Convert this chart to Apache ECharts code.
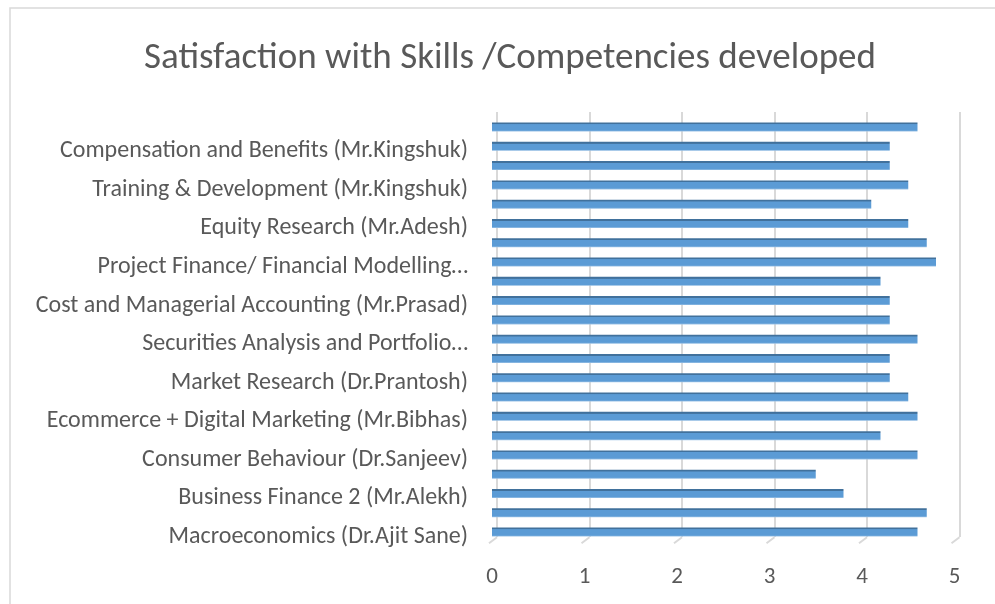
<!DOCTYPE html>
<html><head><meta charset="utf-8">
<script src="https://cdn.jsdelivr.net/npm/echarts@6/dist/echarts.min.js"></script>
<style>html,body{margin:0;padding:0;background:#fff}#c{width:995px;height:604px}</style>
</head><body><div id="c"></div>
<script>
const titleText = "Satisfaction with Skills /Competencies developed";
// bottom to top
const categories = [
  "Macroeconomics (Dr.Ajit Sane)", "",
  "Business Finance 2 (Mr.Alekh)", "",
  "Consumer Behaviour (Dr.Sanjeev)", "",
  "Ecommerce + Digital Marketing (Mr.Bibhas)", "",
  "Market Research (Dr.Prantosh)", "",
  "Securities Analysis and Portfolio…", "",
  "Cost and Managerial Accounting (Mr.Prasad)", "",
  "Project Finance/ Financial Modelling…", "",
  "Equity Research (Mr.Adesh)", "",
  "Training & Development (Mr.Kingshuk)", "",
  "Compensation and Benefits (Mr.Kingshuk)", ""
];
const values = [4.6, 4.7, 3.8, 3.5, 4.6, 4.2, 4.6, 4.5, 4.3, 4.3, 4.6, 4.3, 4.3, 4.2, 4.8, 4.7, 4.5, 4.1, 4.5, 4.3, 4.3, 4.6];
const xTicks = [0, 1, 2, 3, 4, 5];

const FONT = 'Carlito, Lato, "Open Sans", sans-serif';
const chart = echarts.init(document.getElementById('c'), null, {renderer: 'canvas'});
chart.setOption({
  animation: false,
  backgroundColor: '#fff',
  title: {
    text: titleText, left: 139, top: 35,
    textStyle: {fontFamily: FONT, fontWeight: 'normal', fontSize: 37, color: '#595959'}
  },
  graphic: [{
    type: 'rect', shape: {x: 10, y: 8, width: 1000, height: 700},
    style: {fill: 'none', stroke: '#d9d9d9', lineWidth: 1.5}, silent: true, z: -1
  }],
  grid: [
    {left: 492, top: 117.4, width: 462.5, height: 424.3, containLabel: false},
    {left: 497, top: 112, width: 462.5, height: 425, containLabel: false},
    {left: 492, top: 122.4, width: 462.5, height: 424.3, containLabel: false}
  ],
  xAxis: [
    {gridIndex: 0, type: 'value', min: xTicks[0], max: xTicks[xTicks.length - 1], interval: 1,
     axisLine: {show: false}, axisTick: {show: false}, splitLine: {show: false},
     axisLabel: {margin: 24, fontFamily: FONT, fontSize: 23, color: '#595959'}},
    {gridIndex: 1, type: 'value', min: xTicks[0], max: xTicks[xTicks.length - 1], interval: 1,
     axisLine: {show: false}, axisTick: {show: false}, axisLabel: {show: false},
     splitLine: {show: true, lineStyle: {color: '#d9d9d9', width: 2}}},
    {gridIndex: 2, type: 'value', min: xTicks[0], max: xTicks[xTicks.length - 1], show: false}
  ],
  yAxis: [
    {gridIndex: 0, type: 'category', data: categories, axisLine: {show: false}, axisTick: {show: false}, axisLabel: {show: false}},
    {gridIndex: 1, type: 'category', data: categories, show: false},
    {gridIndex: 2, type: 'category', data: categories,
     axisLine: {show: false}, axisTick: {show: false}, splitLine: {show: false},
     axisLabel: {interval: 0, margin: 24, fontFamily: FONT, fontSize: 24, color: '#595959'}}
  ],
  series: [{
    type: 'bar', xAxisIndex: 0, yAxisIndex: 0, data: values, barWidth: 9,
    itemStyle: {
      color: new echarts.graphic.LinearGradient(0, 0, 0, 1, [
        {offset: 0, color: '#41719c'}, {offset: 0.18, color: '#41719c'},
        {offset: 0.22, color: '#5b9bd5'}, {offset: 0.85, color: '#5b9bd5'},
        {offset: 1, color: '#9dc3e6'}
      ])
    }
  }, {
    type: 'custom', xAxisIndex: 0, yAxisIndex: 0, silent: true,
    data: xTicks.map(function (v) { return [v, 0]; }),
    renderItem: function (params, api) {
      const p = api.coord([api.value(0), 0]);
      const cs = params.coordSys;
      const b = cs.y + cs.height;
      return {type: 'line', shape: {x1: p[0] - 3, y1: b + 1.5, x2: p[0] + 5, y2: b - 4.5},
              style: {stroke: '#d9d9d9', lineWidth: 2}};
    }
  }]
});
</script></body></html>
